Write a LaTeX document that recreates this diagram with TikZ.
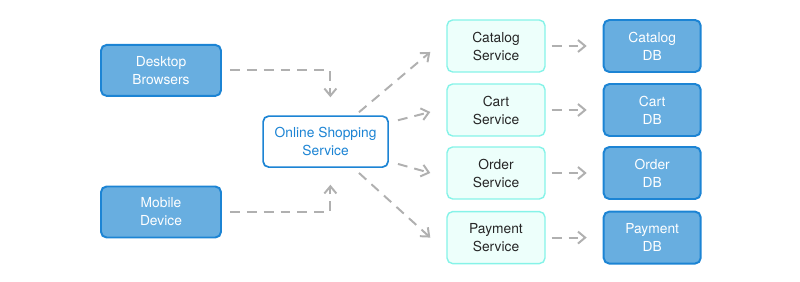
\documentclass[tikz,border=0pt]{standalone}
\usepackage{fontspec}
\setmainfont{TeX Gyre Heros}
\usepackage{xcolor}
\usepackage{tikz}
\usetikzlibrary{arrows.meta, positioning, calc}
\definecolor{dbfill}{HTML}{68AEE0}
\definecolor{dbline}{HTML}{1C84D4}
\definecolor{svcfill}{HTML}{EDFFFB}
\definecolor{svcline}{HTML}{86F3E8}
\definecolor{flowgray}{HTML}{B0B0B0}

\begin{document}
\begin{tikzpicture}[
    font=\fontsize{9.8}{12.8}\selectfont,
    >={Straight Barb[length=1.8mm, width=3mm]},
    client/.style={rectangle, draw=dbline, fill=dbfill, text=white, line width=1.4pt, rounded corners=4pt, minimum width=3cm, minimum height=1.275cm, align=center},
    gateway/.style={rectangle, draw=dbline, fill=white, text=dbline, line width=1.2pt, rounded corners=4pt, minimum width=3.125cm, minimum height=1.275cm, align=center},
    svcbox/.style={rectangle, draw=svcline, fill=svcfill, text=black!85, line width=1pt, rounded corners=4pt, minimum width=2.45cm, minimum height=1.3cm, align=center},
    dbbox/.style={rectangle, draw=dbline, fill=dbfill, text=white, line width=1.4pt, rounded corners=4pt, minimum width=2.425cm, minimum height=1.3cm, align=center},
    flow/.style={->, draw=flowgray, line width=1.4pt, dash pattern=on 7pt off 5pt},
]
    \useasboundingbox (0,0) rectangle (20,7.05);

    % Clients
    \node[client] (desktop) at (4.025, 5.29) {Desktop\\Browsers};
    \node[client] (mobile) at (4.025, 1.75) {Mobile\\Device};

    % Gateway
    \node[gateway] (shop) at (8.14, 3.51) {Online Shopping\\Service};

    % Services
    \node[svcbox] (catalog) at (12.4, 5.9) {Catalog\\Service};
    \node[svcbox] (cart) at (12.4, 4.3) {Cart\\Service};
    \node[svcbox] (order) at (12.4, 2.725) {Order\\Service};
    \node[svcbox] (payment) at (12.4, 1.11) {Payment\\Service};

    % Databases
    \node[dbbox, right=1.425cm of catalog] (catalogDB) {Catalog\\DB};
    \node[dbbox, right=1.425cm of cart] (cartDB) {Cart\\DB};
    \node[dbbox, right=1.425cm of order] (orderDB) {Order\\DB};
    \node[dbbox, right=1.425cm of payment] (paymentDB) {Payment\\DB};

    % Clients to gateway
    \draw[flow, shorten <=0.2cm, shorten >=0.45cm] (desktop.east) -| ([xshift=0.12cm]shop.north);
    \draw[flow, shorten <=0.2cm, shorten >=0.42cm] (mobile.east) -| ([xshift=0.12cm]shop.south);

    % Gateway to services
    \draw[flow] ([xshift=-0.75cm, yshift=0.075cm]shop.north east) -- ([xshift=-0.4cm, yshift=-0.15cm]catalog.west);
    \draw[flow] ([xshift=0.225cm, yshift=-0.125cm]shop.north east) -- ([xshift=-0.4cm, yshift=-0.05cm]cart.west);
    \draw[flow] ([xshift=0.225cm, yshift=0.1cm]shop.south east) -- ([xshift=-0.4cm]order.west);
    \draw[flow] ([xshift=-0.75cm, yshift=-0.125cm]shop.south east) -- ([xshift=-0.4cm]payment.west);

    % Services to databases
    \foreach \svc in {catalog, cart, order, payment}
        \draw[flow, shorten <=0.15cm, shorten >=0.4cm] (\svc.east) -- (\svc DB.west);

\end{tikzpicture}
\end{document}
